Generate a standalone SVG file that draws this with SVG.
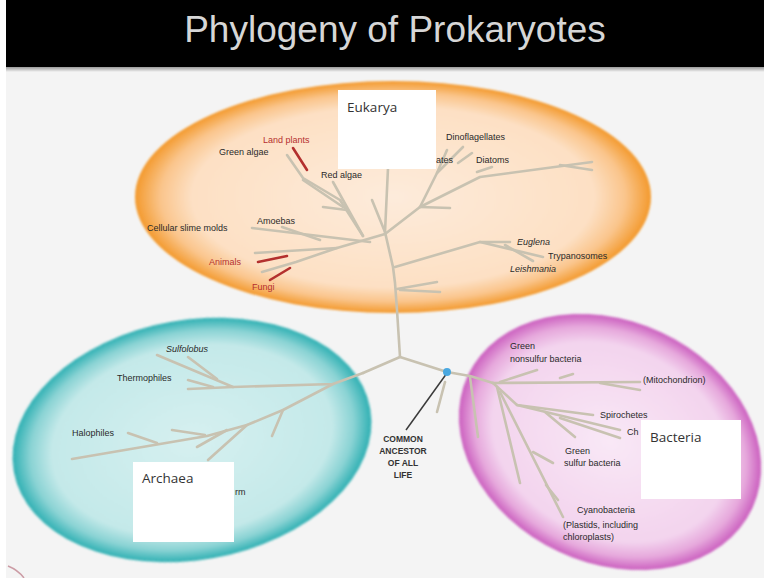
<svg xmlns="http://www.w3.org/2000/svg" width="764" height="578" viewBox="0 0 764 578">
<defs>
<radialGradient id="gEuk" cx="0.5" cy="0.5" r="0.5">
<stop offset="0" stop-color="#fdebdb"/>
<stop offset="0.78" stop-color="#fde0c4"/>
<stop offset="0.9" stop-color="#fac58c"/>
<stop offset="1" stop-color="#f39a2e"/>
</radialGradient>
<radialGradient id="gArc" cx="0.5" cy="0.5" r="0.5">
<stop offset="0" stop-color="#d6f0f0"/>
<stop offset="0.78" stop-color="#c4e9e9"/>
<stop offset="0.9" stop-color="#8ad3d4"/>
<stop offset="1" stop-color="#2fb0b3"/>
</radialGradient>
<radialGradient id="gBac" cx="0.5" cy="0.5" r="0.5">
<stop offset="0" stop-color="#f9e8f6"/>
<stop offset="0.78" stop-color="#f3d4ee"/>
<stop offset="0.9" stop-color="#e6a8dc"/>
<stop offset="1" stop-color="#cb5fbf"/>
</radialGradient>
<linearGradient id="gShadow" x1="0" y1="0" x2="0" y2="1">
<stop offset="0" stop-color="#888"/>
<stop offset="1" stop-color="#f4f4f4"/>
</linearGradient>
<filter id="soft" x="-5%" y="-5%" width="110%" height="110%"><feGaussianBlur stdDeviation="1.2"/></filter>
</defs>
<style>
.t{font-family:"Liberation Sans",Arial,sans-serif;font-size:9px;fill:#2a2a2a}
.r{fill:#b5302f}
.i{font-style:italic}
.b{font-family:"Liberation Sans",Arial,sans-serif;font-size:8.5px;font-weight:bold;fill:#333;text-anchor:middle}
.tree{stroke:#c8c2b1;stroke-width:2.6;fill:none;stroke-linecap:round;stroke-linejoin:round}
.red{stroke:#b3302e;stroke-width:2.6;fill:none;stroke-linecap:round}
.box{fill:#ffffff}
.bl{font-family:"Open Sans","Liberation Sans",sans-serif;font-size:13.5px;fill:#333}
</style>
<rect x="0" y="0" width="764" height="578" fill="#f4f4f4"/>
<rect x="0" y="0" width="6" height="578" fill="#ffffff"/>
<rect x="6" y="66" width="758" height="6" fill="url(#gShadow)"/>
<g id="title">
<rect x="6" y="0" width="758" height="67" fill="#000"/>
<text x="395" y="42" font-family="Liberation Sans,Arial,sans-serif" font-size="37" fill="#d6d6d6" text-anchor="middle">Phylogeny of Prokaryotes</text>
</g>
<path d="M8 566 Q18 570 24 578" stroke="#b06070" stroke-width="1.5" fill="none" opacity="0.6"/>
<g id="eukarya">
<ellipse cx="393" cy="197" rx="258" ry="116" fill="url(#gEuk)" filter="url(#soft)"/>
</g>
<g id="archaea">
<ellipse cx="192" cy="440" rx="181" ry="120" transform="rotate(-10 192 440)" fill="url(#gArc)" filter="url(#soft)"/>
</g>
<g id="bacteria">
<ellipse cx="610" cy="442" rx="157" ry="121" transform="rotate(25 610 442)" fill="url(#gBac)" filter="url(#soft)"/>
</g>
<g id="connectors">
<path class="tree" d="M363 373 L400 357 L447 372 L470 376 L493 383"/>
<path class="tree" d="M400 357 L397 310 L395 283 L393 267 L385 232 L388 168"/>
<path class="tree" d="M385 232 L372 200"/>
<path class="tree" d="M385 234 L337 248 L296 262 L262 272"/>
<path class="tree" d="M337 248 L255 253"/>
<path class="tree" d="M370 242 L252 228"/>
<path class="tree" d="M320 240 L282 227"/>
<path class="tree" d="M363 236 L340 200 L303 178 L287 155"/>
<path class="tree" d="M363 236 L333 182"/>
<path class="tree" d="M347 210 L323 207"/>
<path class="tree" d="M303 180 L343 207"/>
<path class="red" d="M293 148 L307 170"/>
<path class="red" d="M258 262 L287 256"/>
<path class="red" d="M270 280 L290 268"/>
<path class="tree" d="M385 234 L420 207 L437 173 L463 147"/>
<path class="tree" d="M437 173 L447 150"/>
<path class="tree" d="M458 163 L472 153"/>
<path class="tree" d="M420 207 L480 177 L592 162"/>
<path class="tree" d="M560 165 L592 170"/>
<path class="tree" d="M477 172 L492 167"/>
<path class="tree" d="M420 207 L450 208"/>
<path class="tree" d="M395 267 L480 242 L510 242"/>
<path class="tree" d="M480 242 L543 257"/>
<path class="tree" d="M505 245 L533 261"/>
<path class="tree" d="M397 289 L437 282"/>
<path class="tree" d="M400 290 L440 292"/>
<path class="tree" d="M363 373 L333 384 L233 387 L188 389"/>
<path class="tree" d="M233 387 L157 355"/>
<path class="tree" d="M217 379 L188 357"/>
<path class="tree" d="M213 387 L188 380"/>
<path class="tree" d="M333 384 L283 410 L247 425 L207 436 L72 459"/>
<path class="tree" d="M283 410 L272 436"/>
<path class="tree" d="M247 425 L208 460"/>
<path class="tree" d="M227 430 L197 447"/>
<path class="tree" d="M205 435 L172 430"/>
<path class="tree" d="M128 433 L157 443"/>
<path class="tree" d="M493 383 L640 382"/>
<path class="tree" d="M600 383 L640 390"/>
<path class="tree" d="M500 382 L537 370"/>
<path class="tree" d="M560 378 L573 374"/>
<path class="tree" d="M470 377 L478 437"/>
<path class="tree" d="M493 383 L517 405 L593 415"/>
<path class="tree" d="M517 405 L620 430"/>
<path class="tree" d="M560 418 L620 438"/>
<path class="tree" d="M545 412 L575 437"/>
<path class="tree" d="M497 387 L520 483"/>
<path class="tree" d="M500 392 L563 517"/>
<path class="tree" d="M533 452 L553 463"/>
<path class="tree" d="M546 485 L558 500"/>
<path class="tree" d="M445 382 L437 412"/>
<line x1="447" y1="373" x2="406" y2="430" stroke="#3a3a3a" stroke-width="1.5"/>
<circle cx="447" cy="372" r="4" fill="#4aa8e0"/>
</g>
<g id="labels-euk">
<text class="t r" x="263" y="143">Land plants</text>
<text class="t" x="219" y="155">Green algae</text>
<text class="t" x="321" y="178">Red algae</text>
<text class="t" x="257" y="224">Amoebas</text>
<text class="t" x="147" y="231">Cellular slime molds</text>
<text class="t r" x="209" y="265">Animals</text>
<text class="t r" x="252" y="290">Fungi</text>
<text class="t" x="446" y="140">Dinoflagellates</text>
<text class="t" x="436" y="163">ates</text>
<text class="t" x="476" y="163">Diatoms</text>
<text class="t i" x="517" y="245">Euglena</text>
<text class="t" x="548" y="259">Trypanosomes</text>
<text class="t i" x="510" y="272">Leishmania</text>
</g>
<g id="labels-arc">
<text class="t i" x="166" y="352">Sulfolobus</text>
<text class="t" x="117" y="381">Thermophiles</text>
<text class="t" x="72" y="436">Halophiles</text>
<text class="t" x="235" y="495">rm</text>
</g>
<g id="labels-bac">
<text class="t" x="510" y="349">Green</text>
<text class="t" x="510" y="362">nonsulfur bacteria</text>
<text class="t" x="643" y="383">(Mitochondrion)</text>
<text class="t" x="600" y="418">Spirochetes</text>
<text class="t" x="627" y="435">Ch</text>
<text class="t" x="565" y="454">Green</text>
<text class="t" x="564" y="466">sulfur bacteria</text>
<text class="t" x="577" y="513">Cyanobacteria</text>
<text class="t" x="563" y="528">(Plastids, including</text>
<text class="t" x="563" y="540">chloroplasts)</text>
</g>
<g id="ancestor">
<text class="b" x="403" y="442">COMMON</text>
<text class="b" x="403" y="454">ANCESTOR</text>
<text class="b" x="403" y="466">OF ALL</text>
<text class="b" x="403" y="478">LIFE</text>
</g>
<g id="box-eukarya">
<rect class="box" x="338" y="90" width="98" height="79"/>
<text class="bl" x="347" y="112">Eukarya</text>
</g>
<g id="box-archaea">
<rect class="box" x="133" y="462" width="101" height="80"/>
<text class="bl" x="142" y="483">Archaea</text>
</g>
<g id="box-bacteria">
<rect class="box" x="641" y="420" width="100" height="79"/>
<text class="bl" x="650" y="442">Bacteria</text>
</g>
</svg>
